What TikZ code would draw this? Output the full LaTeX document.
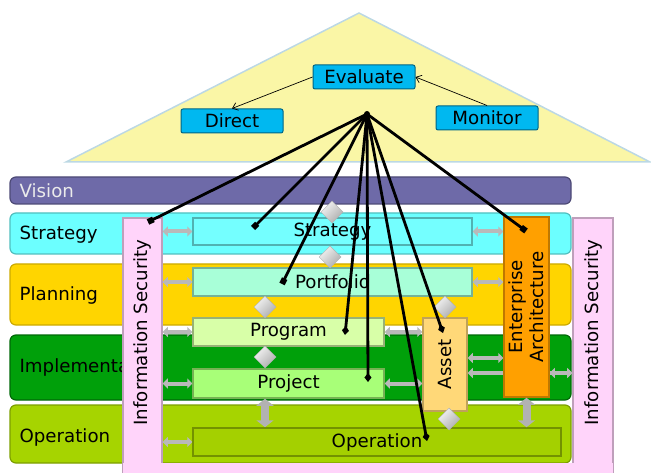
\documentclass[tikz,border=0pt]{standalone}
\usepackage{fontspec}
\setmainfont{DejaVu Sans}
\usepackage{xcolor}
\usepackage{tikz}
\usetikzlibrary{arrows.meta}
\usetikzlibrary{shapes.geometric}
\usetikzlibrary{positioning}
\definecolor{roofc}{HTML}{FAF6A6}
\definecolor{roofedge}{HTML}{BCD8E4}
\definecolor{govc}{HTML}{00B8F0}
\definecolor{visionc}{HTML}{6E6AA8}
\definecolor{stratc}{HTML}{6CFFFF}
\definecolor{planc}{HTML}{FFD500}
\definecolor{implc}{HTML}{00A00A}
\definecolor{operc}{HTML}{A6D400}
\definecolor{sstratc}{HTML}{74FFFF}
\definecolor{sportc}{HTML}{A8FFD8}
\definecolor{sprogc}{HTML}{D8FFA8}
\definecolor{sprojc}{HTML}{A8FF78}
\definecolor{soperc}{HTML}{A4D000}
\definecolor{assetc}{HTML}{FFD878}
\definecolor{eac}{HTML}{FFA000}
\definecolor{isc}{HTML}{FFD4FA}
\newcommand{\diagfont}{\fontsize{18.2}{21}\selectfont}
\tikzset{
    band/.style = {rectangle, rounded corners=6pt, inner sep=0pt, line width=1.2pt, minimum width=561pt},
    bandtext/.style = {anchor=west, inner sep=0pt, font=\diagfont},
    ibox/.style = {rectangle, inner sep=0pt, line width=1.5pt, font=\diagfont},
    gov/.style = {ibox, rounded corners=2pt, fill=govc, draw=govc!55!black, line width=1pt, minimum width=102pt, minimum height=24pt},
    vtext/.style = {rotate=90, inner sep=0pt, font=\diagfont, align=center},
    gdia/.style = {diamond, inner sep=0pt, minimum width=22pt, minimum height=22pt, draw=gray!60, line width=0.5pt, shading=axis, top color=gray!10, bottom color=gray!65, shading angle=45},
    garrow/.style = {draw=gray!55, line width=4pt, arrows={Triangle[width=10pt,length=5pt]-Triangle[width=10pt,length=5pt]}},
    gvarrow/.style = {draw=gray!60, line width=8pt, arrows={Triangle[width=17pt,length=7pt]-Triangle[width=17pt,length=7pt]}},
    hubline/.style = {line width=2.8pt, black},
    sqend/.style = {hubline, -{Square[length=6pt,width=6pt]}},
    dmend/.style = {hubline, -{Diamond[length=9pt,width=7pt]}},
    thinarr/.style = {line width=0.7pt, -{Straight Barb[length=5pt,width=8pt]}}
}
\begin{document}
\begin{tikzpicture}[x=1pt, y=-1pt]
    \useasboundingbox (0,0) rectangle (651,473);

    % governance roof
    \filldraw[fill=roofc, draw=roofedge, line width=1.5pt] (66,162) -- (359,13) -- (650,162) -- cycle;
    \node[gov] (evaluate) at (364,77) {Evaluate};
    \node[gov] (direct) at (232,121) {Direct};
    \node[gov] (monitor) at (487,118) {Monitor};
    \draw[thinarr] (evaluate.west) -- (direct.north);
    \draw[thinarr] (monitor.north) -- (evaluate.east);

    % layers
    \node[band, fill=visionc, draw=visionc!70!black, minimum height=27pt] (bvision) at (290.5,190.5) {};
    \node[bandtext, text=white!92!black] (lvision) at ([xshift=10pt]bvision.west) {Vision};
    \node[band, fill=stratc, draw=stratc!75!black, minimum height=41pt] (bstrat) at (290.5,233.5) {};
    \node[bandtext] (lstrat) at ([xshift=10pt,yshift=-1pt]bstrat.west) {Strategy};
    \node[band, fill=planc, draw=planc!80!black, minimum height=61pt] (bplan) at (290.5,294.5) {};
    \node[bandtext] (lplan) at ([xshift=10pt,yshift=-1pt]bplan.west) {Planning};
    \node[band, fill=implc, draw=implc!65!black, minimum height=65pt] (bimpl) at (290.5,367.5) {};
    \node[bandtext] (limpl) at ([xshift=10pt]bimpl.west) {Implementation};
    \node[band, fill=operc, draw=operc!75!black, minimum height=58pt] (boper) at (290.5,434) {};
    \node[bandtext] (loper) at ([xshift=10pt,yshift=-3pt]boper.west) {Operation};

    % processes
    \node[ibox, fill=sstratc, draw=sstratc!70!black, minimum width=279pt, minimum height=27pt] (sstrat) at (332.5,231.5) {Strategy};
    \node[ibox, fill=sportc, draw=sportc!70!black, minimum width=279pt, minimum height=28pt] (sport) at (332.5,282) {Portfolio};
    \node[ibox, fill=sprogc, draw=sprogc!70!black, minimum width=191pt, minimum height=28pt] (sprog) at (288.5,332) {Program};
    \node[ibox, fill=sprojc, draw=sprojc!70!black, minimum width=191pt, minimum height=29pt] (sproj) at (288.5,383.5) {Project};
    \node[ibox, fill=soperc, draw=soperc!70!black, minimum width=368pt, minimum height=28pt] (soper) at (377,442) {Operation};
    \node[ibox, fill=assetc, draw=assetc!75!black, minimum width=44pt, minimum height=93pt] (asset) at (445,364.5) {};
    \node[vtext] (tasset) at (asset) {Asset};
    \coordinate (aea) at ([yshift=6.5pt]asset.east);
    \coordinate (aisr) at ([yshift=-8.5pt]asset.east);
    \draw[garrow] (aisr) -- (572,373);
    \node[ibox, fill=eac, draw=eac!75!black, minimum width=45pt, minimum height=180pt] (ea) at (526.5,307) {};
    \node[vtext] (tea) at (ea) {Enterprise\\Architecture};

    % information security
    \node[ibox, fill=isc, draw=isc!75!black, minimum width=39pt, minimum height=255pt] (isl) at (142.5,345.5) {};
    \node[ibox, fill=isc, draw=isc!75!black, minimum width=40pt, minimum height=255pt] (isr) at (593,345.5) {};
    \node[ibox, fill=isc, draw=isc, minimum width=488pt, minimum height=10pt] (isb) at (368,469) {};
    \node[vtext] (tisl) at ([yshift=13pt]isl) {Information Security};
    \node[vtext] (tisr) at ([yshift=13pt]isr) {Information Security};

    % links
    \draw[garrow] (isl.east |- sstrat.west) -- (sstrat.west);
    \draw[garrow] (isl.east |- sport.west) -- (sport.west);
    \draw[garrow] (isl.east |- sprog.west) -- (sprog.west);
    \draw[garrow] (isl.east |- sproj.west) -- (sproj.west);
    \draw[garrow] (isl.east |- soper.west) -- (soper.west);
    \draw[garrow] (sstrat.east) -- (ea.west |- sstrat.east);
    \draw[garrow] (sport.east) -- (ea.west |- sport.east);
    \draw[garrow] (sprog.east) -- (asset.west |- sprog.east);
    \draw[garrow] (sproj.east) -- (asset.west |- sproj.east);
    \draw[garrow] (aea) -- (ea.west |- aea);
    \draw[garrow] (ea.east |- aisr) -- (isr.west |- aisr);

    \node[gdia] (d1) at (332,212) {};
    \node[gdia] (d2) at (330,257) {};
    \node[gdia] (d3) at (265,307) {};
    \node[gdia] (d4) at (265,357) {};
    \node[gdia] (d5) at (445,307) {};
    \node[gdia] (d6) at (449,419) {};
    \draw[gvarrow] (d4 |- sproj.south) -- (d4 |- soper.north);
    \draw[gvarrow] (ea.south) -- (ea.south |- soper.north);

    % evaluation lines
    \node[circle, fill=black, inner sep=0pt, minimum size=6pt] (hub) at (367,114) {};
    \coordinate (eisl) at (148,222);
    \coordinate (estrat) at (253,228);
    \coordinate (eport) at (282,284);
    \coordinate (eprog) at (345,335);
    \coordinate (eproj) at (368,382);
    \coordinate (eoper) at (427,441);
    \coordinate (easset) at (443,333);
    \coordinate (eea) at (526,231);
    \draw[sqend] (hub.center) -- (eisl);
    \draw[sqend] (hub.center) -- (estrat);
    \draw[sqend] (hub.center) -- (eport);
    \draw[dmend] (hub.center) -- (eprog);
    \draw[dmend] (hub.center) -- (eproj);
    \draw[dmend] (hub.center) -- (eoper);
    \draw[dmend] (hub.center) -- (easset);
    \draw[sqend] (hub.center) -- (eea);
\end{tikzpicture}
\end{document}
